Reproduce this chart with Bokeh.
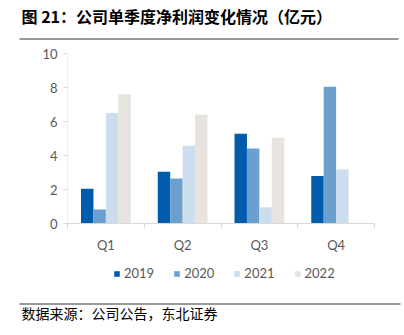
from bokeh.plotting import figure
from bokeh.models import (Range1d, FixedTicker, Legend, LegendItem, Label,
                          BoxAnnotation)
from bokeh.embed import file_html
from bokeh.resources import INLINE

categories = ["Q1", "Q2", "Q3", "Q4"]
years = ["2019", "2020", "2021", "2022"]
v2019 = [2.05, 3.05, 5.28, 2.8]
v2020 = [0.82, 2.65, 4.41, 8.05]
v2021 = [6.5, 4.58, 0.96, 3.18]
v2022 = [7.6, 6.41, 5.04, None]
y_ticks = [0, 2, 4, 6, 8, 10]

colors = ["#005BAC", "#6A9FD0", "#CCDDED", "#E7E4DF"]
series = [v2019, v2020, v2021, v2022]

W, H = 404, 335
# plot area in canvas px: x 67..374, y(0)=223, y(10)=53
PL, PR, PT, PB = 67, 374, 53, 223
sx = (PR - PL) / len(categories)
sy = (PB - PT) / 10.0

p = figure(width=W, height=H, output_backend="svg", toolbar_location=None,
           x_range=Range1d(-PL / sx, len(categories) + (W - PR) / sx),
           y_range=Range1d(-(H - PB) / sy, PB / sy),
           min_border=0)
p.outline_line_color = None
p.background_fill_color = "white"
p.border_fill_color = "white"
p.grid.visible = False

bw = 0.162
centers = [i + 0.5 for i in range(len(categories))]
renderers = []
for k, (vals, c) in enumerate(zip(series, colors)):
    xs, tops = [], []
    for i, v in enumerate(vals):
        if v is not None:
            xs.append(centers[i] + (k - 1.5) * bw)
            tops.append(v)
    r = p.vbar(x=xs, top=tops, width=bw, color=c, line_color=None)
    renderers.append(r)

# x axis drawn at y = 0
xa = p.xaxis[0]
xa.fixed_location = 0
xa.bounds = (0, len(categories))
xa.ticker = FixedTicker(ticks=centers, minor_ticks=list(range(len(categories) + 1)))
xa.major_label_overrides = {c: lab for c, lab in zip(centers, categories)}
xa.major_tick_out = 0
xa.major_tick_in = 0
xa.minor_tick_out = 5
xa.minor_tick_in = 0
xa.minor_tick_line_color = "#D9D9D9"
xa.axis_line_color = "#D9D9D9"
xa.major_label_text_font = "Lato"
xa.major_label_text_font_size = "13px"
xa.major_label_text_color = "#595959"
xa.major_label_standoff = 8

ya = p.yaxis[0]
ya.fixed_location = 0
ya.bounds = (0, 10)
ya.ticker = FixedTicker(ticks=y_ticks)
ya.major_tick_out = 4
ya.major_tick_in = 0
ya.minor_tick_line_color = None
ya.major_tick_line_color = "#D9D9D9"
ya.axis_line_color = "#EEEEEE"
ya.major_label_text_font = "Lato"
ya.major_label_text_font_size = "13px"
ya.major_label_text_color = "#595959"
ya.major_label_standoff = 6

legend = Legend(items=[LegendItem(label=y, renderers=[r]) for y, r in zip(years, renderers)],
                orientation="horizontal", location=(113, 54),
                glyph_width=7, glyph_height=7, label_standoff=4, spacing=19,
                padding=0, margin=0, border_line_color=None,
                background_fill_alpha=0,
                label_text_font="Lato", label_text_font_size="13px",
                label_text_color="#595959")
p.add_layout(legend, "center")

# screen units: relative to the frame's bottom-left corner (= canvas), y up
title = Label(x=21, y=H - 27, x_units="screen", y_units="screen",
              text="图 21：公司单季度净利润变化情况（亿元）",
              text_font="Noto Sans CJK SC", text_font_style="bold",
              text_font_size="16px", text_color="#000000")
p.add_layout(title)

footer = Label(x=21, y=H - 322, x_units="screen", y_units="screen",
               text="数据来源：公司公告，东北证券",
               text_font="Noto Sans CJK SC", text_font_size="14px",
               text_color="#000000")
p.add_layout(footer)

line1 = BoxAnnotation(left=19, right=398, top=H - 37.5, bottom=H - 39.5,
                      left_units="screen", right_units="screen",
                      top_units="screen", bottom_units="screen",
                      fill_color="#999999", fill_alpha=1, line_color=None)
line2 = BoxAnnotation(left=19, right=400, top=H - 302.5, bottom=H - 304.5,
                      left_units="screen", right_units="screen",
                      top_units="screen", bottom_units="screen",
                      fill_color="#999999", fill_alpha=1, line_color=None)
p.add_layout(line1)
p.add_layout(line2)

open("out.html", "w").write(file_html(p, INLINE))
